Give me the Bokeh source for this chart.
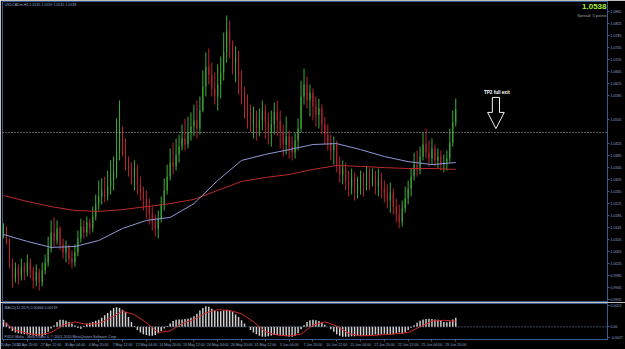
from bokeh.plotting import figure
from bokeh.layouts import column
from bokeh.models import Range1d, FixedTicker, ColumnDataSource, Span, Label
from bokeh.embed import file_html
from bokeh.resources import INLINE

# ---------------- data (USDCAD; one bar = 8 hours) ----------------
symbol_info = "USDCADm,H4  1.0535 1.0559 1.0532 1.0538"
first_open = 1.0127
close = [
    1.0140, 1.0100, 1.0027, 0.9973, 1.0007, 0.9980, 1.0013, 0.9993, 1.0027, 1.0000,
    0.9967, 0.9993, 0.9960, 1.0000, 1.0027, 1.0073, 1.0127, 1.0100, 1.0140, 1.0087,
    1.0060, 1.0080, 1.0040, 1.0027, 1.0060, 1.0107, 1.0147, 1.0127, 1.0160, 1.0140,
    1.0180, 1.0220, 1.0247, 1.0267, 1.0247, 1.0280, 1.0300, 1.0327, 1.0400, 1.0467,
    1.0400, 1.0360, 1.0333, 1.0313, 1.0340, 1.0287, 1.0260, 1.0240, 1.0213, 1.0187,
    1.0160, 1.0140, 1.0173, 1.0220, 1.0267, 1.0313, 1.0360, 1.0347, 1.0387, 1.0413,
    1.0440, 1.0420, 1.0460, 1.0480, 1.0500, 1.0473, 1.0533, 1.0613, 1.0680, 1.0653,
    1.0607, 1.0580, 1.0620, 1.0660, 1.0727, 1.0800, 1.0753, 1.0693, 1.0713, 1.0647,
    1.0593, 1.0553, 1.0527, 1.0487, 1.0513, 1.0473, 1.0500, 1.0533, 1.0493, 1.0460,
    1.0487, 1.0527, 1.0500, 1.0460, 1.0420, 1.0447, 1.0413, 1.0393, 1.0433, 1.0473,
    1.0580, 1.0620, 1.0567, 1.0593, 1.0547, 1.0520, 1.0540, 1.0487, 1.0453, 1.0427,
    1.0400, 1.0420, 1.0353, 1.0320, 1.0340, 1.0300, 1.0280, 1.0307, 1.0267, 1.0287,
    1.0307, 1.0280, 1.0327, 1.0293, 1.0313, 1.0280, 1.0307, 1.0273, 1.0253, 1.0233,
    1.0260, 1.0213, 1.0187, 1.0160, 1.0207, 1.0240, 1.0273, 1.0313, 1.0353, 1.0333,
    1.0380, 1.0420, 1.0393, 1.0373, 1.0407, 1.0367, 1.0380, 1.0353, 1.0360, 1.0373,
    1.0427, 1.0493, 1.0538,
]
high = [
    1.0157, 1.0147, 1.0107, 1.0040, 1.0027, 1.0020, 1.0040, 1.0027, 1.0053, 1.0040,
    1.0013, 1.0020, 1.0007, 1.0027, 1.0053, 1.0113, 1.0167, 1.0177, 1.0167, 1.0147,
    1.0107, 1.0100, 1.0087, 1.0067, 1.0087, 1.0133, 1.0173, 1.0167, 1.0180, 1.0173,
    1.0213, 1.0253, 1.0300, 1.0307, 1.0313, 1.0333, 1.0367, 1.0380, 1.0507, 1.0567,
    1.0480, 1.0440, 1.0380, 1.0360, 1.0367, 1.0353, 1.0313, 1.0280, 1.0267, 1.0240,
    1.0213, 1.0187, 1.0200, 1.0247, 1.0307, 1.0353, 1.0407, 1.0427, 1.0440, 1.0453,
    1.0487, 1.0507, 1.0513, 1.0527, 1.0553, 1.0567, 1.0580, 1.0667, 1.0727, 1.0740,
    1.0693, 1.0660, 1.0687, 1.0713, 1.0793, 1.0850, 1.0833, 1.0767, 1.0747, 1.0733,
    1.0667, 1.0613, 1.0587, 1.0553, 1.0547, 1.0533, 1.0540, 1.0567, 1.0553, 1.0527,
    1.0533, 1.0560, 1.0567, 1.0533, 1.0487, 1.0513, 1.0467, 1.0447, 1.0460, 1.0507,
    1.0633, 1.0673, 1.0647, 1.0620, 1.0607, 1.0580, 1.0573, 1.0553, 1.0513, 1.0487,
    1.0453, 1.0447, 1.0433, 1.0380, 1.0367, 1.0360, 1.0333, 1.0340, 1.0327, 1.0313,
    1.0333, 1.0327, 1.0347, 1.0340, 1.0340, 1.0333, 1.0340, 1.0327, 1.0300, 1.0287,
    1.0293, 1.0273, 1.0240, 1.0220, 1.0233, 1.0280, 1.0300, 1.0340, 1.0393, 1.0400,
    1.0413, 1.0460, 1.0473, 1.0433, 1.0440, 1.0420, 1.0407, 1.0400, 1.0387, 1.0400,
    1.0473, 1.0533, 1.0573,
]
low = [
    1.0107, 1.0087, 1.0007, 0.9943, 0.9960, 0.9953, 0.9967, 0.9967, 0.9980, 0.9973,
    0.9940, 0.9947, 0.9933, 0.9947, 0.9987, 1.0013, 1.0060, 1.0080, 1.0087, 1.0067,
    1.0040, 1.0027, 1.0020, 1.0007, 1.0013, 1.0047, 1.0093, 1.0107, 1.0113, 1.0120,
    1.0127, 1.0167, 1.0200, 1.0220, 1.0227, 1.0233, 1.0253, 1.0267, 1.0307, 1.0367,
    1.0380, 1.0333, 1.0313, 1.0287, 1.0267, 1.0253, 1.0233, 1.0200, 1.0173, 1.0153,
    1.0133, 1.0113, 1.0107, 1.0160, 1.0200, 1.0253, 1.0300, 1.0320, 1.0333, 1.0360,
    1.0400, 1.0400, 1.0407, 1.0433, 1.0447, 1.0440, 1.0453, 1.0527, 1.0580, 1.0620,
    1.0580, 1.0553, 1.0533, 1.0573, 1.0633, 1.0693, 1.0707, 1.0653, 1.0627, 1.0587,
    1.0553, 1.0507, 1.0473, 1.0460, 1.0440, 1.0433, 1.0447, 1.0467, 1.0440, 1.0420,
    1.0413, 1.0453, 1.0447, 1.0407, 1.0380, 1.0387, 1.0373, 1.0367, 1.0373, 1.0400,
    1.0460, 1.0553, 1.0540, 1.0513, 1.0500, 1.0480, 1.0473, 1.0453, 1.0420, 1.0400,
    1.0367, 1.0353, 1.0327, 1.0293, 1.0287, 1.0267, 1.0247, 1.0253, 1.0233, 1.0240,
    1.0253, 1.0247, 1.0267, 1.0267, 1.0280, 1.0253, 1.0247, 1.0240, 1.0227, 1.0207,
    1.0193, 1.0187, 1.0160, 1.0140, 1.0147, 1.0193, 1.0220, 1.0247, 1.0300, 1.0313,
    1.0320, 1.0367, 1.0373, 1.0347, 1.0353, 1.0347, 1.0340, 1.0333, 1.0327, 1.0333,
    1.0360, 1.0413, 1.0480,
]
# moving averages, sampled every 8 bars
ma_index = list(range(0, 153, 8))
ma_blue = [1.0120, 1.0097, 1.0077, 1.0080, 1.0100, 1.0140, 1.0167, 1.0177, 1.0223, 1.0300,
           1.0367, 1.0387, 1.0403, 1.0420, 1.0423, 1.0403, 1.0380, 1.0363, 1.0353, 1.0360]
ma_red = [1.0250, 1.0230, 1.0213, 1.0200, 1.0197, 1.0203, 1.0213, 1.0223, 1.0237, 1.0267,
          1.0297, 1.0310, 1.0320, 1.0337, 1.0350, 1.0347, 1.0343, 1.0340, 1.0340, 1.0337]
# MACD(12,26,9)
macd_hist = [
    0.0017, 0.0010, -0.0004, -0.0010, -0.0014, -0.0016, -0.0017, -0.0018, -0.0019, -0.0020,
    -0.0021, -0.0022, -0.0022, -0.0023, -0.0020, -0.0012, -0.0004, 0.0003, 0.0012, 0.0017,
    0.0017, 0.0015, 0.0012, 0.0008, 0.0003, -0.0003, -0.0005, 0.0002, 0.0008, 0.0010,
    0.0012, 0.0015, 0.0017, 0.0022, 0.0028, 0.0034, 0.0040, 0.0046, 0.0048, 0.0046,
    0.0042, 0.0036, 0.0024, 0.0012, 0.0002, -0.0008, -0.0014, -0.0018, -0.0020, -0.0022,
    -0.0022, -0.0020, -0.0016, -0.0010, -0.0004, 0.0002, 0.0008, 0.0014, 0.0017, 0.0018,
    0.0018, 0.0019, 0.0020, 0.0022, 0.0026, 0.0032, 0.0040, 0.0046, 0.0050, 0.0049,
    0.0044, 0.0040, 0.0038, 0.0038, 0.0040, 0.0042, 0.0040, 0.0036, 0.0030, 0.0024,
    0.0016, 0.0008, 0.0000, -0.0008, -0.0014, -0.0018, -0.0022, -0.0024, -0.0024, -0.0023,
    -0.0021, -0.0020, -0.0020, -0.0021, -0.0022, -0.0023, -0.0024, -0.0024, -0.0022, -0.0016,
    -0.0006, 0.0004, 0.0012, 0.0016, 0.0017, 0.0016, 0.0014, 0.0010, 0.0005, 0.0000,
    -0.0006, -0.0012, -0.0018, -0.0022, -0.0024, -0.0024, -0.0024, -0.0023, -0.0023, -0.0022,
    -0.0022, -0.0021, -0.0021, -0.0020, -0.0020, -0.0019, -0.0020, -0.0018, -0.0017, -0.0018,
    -0.0019, -0.0018, -0.0016, -0.0014, -0.0017, -0.0014, -0.0008, -0.0002, 0.0004, 0.0010,
    0.0015, 0.0018, 0.0019, 0.0020, 0.0019, 0.0018, 0.0017, 0.0014, 0.0012, 0.0011,
    0.0013, 0.0018, 0.0022,
]
signal_index = list(range(0, 153, 4))
macd_signal = [0.0012, -0.0008, -0.0016, -0.0020, -0.0014, 0.0004, 0.0012, 0.0006, 0.0008, 0.0022,
               0.0038, 0.0030, 0.0010, -0.0014, -0.0010, 0.0008, 0.0018, 0.0034, 0.0042, 0.0040,
               0.0032, 0.0012, -0.0012, -0.0020, -0.0022, -0.0018, 0.0004, 0.0012, 0.0002, -0.0016,
               -0.0022, -0.0021, -0.0019, -0.0017, -0.0014, 0.0000, 0.0014, 0.0016, 0.0014]
macd_info = "MACD(12,26,9) 0.00464 0.00139"
macd_ticks = [0.0052, 0.0, -0.0027]
macd_tick_labels = ["0.0052", "0.00", "-0.0027"]

time_ticks = list(range(0, 153, 8))
time_labels = ["20 Apr 2010", "22 Apr 20:00", "27 Apr 12:00", "30 Apr 04:00", "4 May 20:00",
               "7 May 12:00", "12 May 04:00", "14 May 20:00", "19 May 12:00", "24 May 04:00",
               "26 May 20:00", "31 May 12:00", "3 Jun 04:00", "7 Jun 20:00", "10 Jun 12:00",
               "15 Jun 04:00", "17 Jun 20:00", "22 Jun 12:00", "25 Jun 04:00", "29 Jun 20:00"]
price_ticks = [0.9905, 0.9945, 0.9985, 1.0025, 1.0065, 1.0105, 1.0145, 1.0185, 1.0225, 1.0265,
               1.0305, 1.0345, 1.0385, 1.0425, 1.0505, 1.0585, 1.0625, 1.0665,
               1.0705, 1.0745, 1.0785, 1.0825, 1.0865]
last_price = 1.0538
line_level = 1.0460
spread_text = "Spread: 5 points"
note_text = "TP2 full exit"
note_bar = 165.5
note_price = 1.0593
arrow_top, arrow_neck, arrow_tip = 1.0577, 1.0527, 1.0473
copyright_text = "FXDD Malta - MetaTrader 4, \u00a9 2001-2010 MetaQuotes Software Corp."

# ---------------- styling ----------------
BG = "#000000"
FRAME = "#3a5a8c"
AXTXT = "#8ea6cf"
BULL = "#3eab37"
BEAR = "#b52530"
FONT = "Liberation Sans"

idx = list(range(len(close)))
opens = [first_open] + close[:-1]
colors = [BULL if c >= o else BEAR for o, c in zip(opens, close)]
src = ColumnDataSource(dict(x=idx, o=opens, c=close, h=high, l=low,
                            top=[max(a, b) for a, b in zip(opens, close)],
                            bot=[min(a, b) for a, b in zip(opens, close)],
                            col=colors))

x_range = Range1d(-0.34, 203.0)
y_range = Range1d(0.98967, 1.08967)

p = figure(width=625, height=302, x_range=x_range, y_range=y_range,
           output_backend="svg", toolbar_location=None,
           x_axis_location=None, y_axis_location="right",
           background_fill_color=BG, border_fill_color=BG,
           min_border_left=2, min_border_right=17, min_border_top=1, min_border_bottom=1)
p.grid.visible = False
p.outline_line_color = FRAME
p.outline_line_width = 1

def style_axis(ax):
    ax.axis_line_color = FRAME
    ax.major_tick_line_color = FRAME
    ax.major_tick_out = 2
    ax.major_tick_in = 0
    ax.minor_tick_line_color = None
    ax.major_label_text_color = AXTXT
    ax.major_label_text_font = FONT
    ax.major_label_text_font_size = "3.6px"
    ax.major_label_standoff = 1

yax = p.yaxis[0]
style_axis(yax)
yax.ticker = FixedTicker(ticks=price_ticks)
yax.major_label_overrides = {t: f"{t:.4f}" for t in price_ticks}

p.segment(x0="x", y0="l", x1="x", y1="h", color="col", line_width=1, source=src)
p.vbar(x="x", top="top", bottom="bot", width=0.35, fill_color="col", line_color=None,
       source=src)

p.line(ma_index, ma_red, color="#b82a28", line_width=1)
p.line(ma_index, ma_blue, color="#8f98d8", line_width=1)

p.add_layout(Span(location=line_level, dimension="width", line_color="#b0b0b0",
                  line_dash="1 2", line_width=1))

# TP2 note with hollow arrow
aw, hw = 1.2, 2.8
p.patch([note_bar - aw, note_bar + aw, note_bar + aw, note_bar + hw, note_bar, note_bar - hw, note_bar - aw],
        [arrow_top, arrow_top, arrow_neck, arrow_neck, arrow_tip, arrow_neck, arrow_neck],
        fill_color=None, line_color="#f0f0f0", line_width=1)
p.add_layout(Label(x=note_bar + 0.3, y=note_price, text=note_text, text_align="center",
                   text_baseline="middle", text_color="#ffffff", text_font=FONT,
                   text_font_size="4.6px", text_font_style="bold"))

p.add_layout(Label(x=x_range.start, y=y_range.end, x_offset=2, y_offset=-1.5, text=symbol_info,
                   text_baseline="top", text_color=AXTXT, text_font=FONT, text_font_size="3.6px"))
p.add_layout(Label(x=x_range.end, y=y_range.end, x_offset=-1, y_offset=-2, text=f"{last_price:.4f}",
                   text_align="right", text_baseline="top", text_color="#a8f03c", text_font=FONT,
                   text_font_size="8px", text_font_style="bold"))
p.add_layout(Label(x=x_range.end, y=y_range.end, x_offset=-1, y_offset=-11, text=spread_text,
                   text_align="right", text_baseline="top", text_color="#a0a0a0", text_font=FONT,
                   text_font_size="4px"))
# axis markers for last price and horizontal line level
p.add_layout(Label(x=x_range.end, y=last_price, x_offset=2, text=f"{last_price:.4f}",
                   text_align="left", text_baseline="middle", text_color="#ffffff", text_font=FONT,
                   text_font_size="3.6px", background_fill_color="#2f5fb0", padding=1))
p.add_layout(Label(x=x_range.end, y=line_level, x_offset=2, text=f"{line_level:.4f}",
                   text_align="left", text_baseline="middle", text_color="#000000", text_font=FONT,
                   text_font_size="3.6px", background_fill_color="#a8a8a8", padding=1))

# ---------------- MACD panel ----------------
m = figure(width=625, height=47, x_range=x_range, y_range=Range1d(-0.0031, 0.0057),
           output_backend="svg", toolbar_location=None, y_axis_location="right",
           background_fill_color=BG, border_fill_color=BG,
           min_border_left=2, min_border_right=17, min_border_top=1, min_border_bottom=0)
m.grid.visible = False
m.outline_line_color = FRAME
m.outline_line_width = 1
may = m.yaxis[0]
style_axis(may)
may.ticker = FixedTicker(ticks=macd_ticks)
may.major_label_overrides = {t: s for t, s in zip(macd_ticks, macd_tick_labels)}
max_ = m.xaxis[0]
style_axis(max_)
max_.ticker = FixedTicker(ticks=time_ticks)
max_.major_label_overrides = {t: s for t, s in zip(time_ticks, time_labels)}
max_.major_label_text_align = "left"

m.add_layout(Span(location=0, dimension="width", line_color="#8090b0", line_dash="1 2", line_width=1))
m.vbar(x=idx, top=macd_hist, bottom=0, width=0.5, fill_color="#d0d0d0", line_color=None)
m.line(signal_index, macd_signal, color="#d02828", line_width=1)
m.add_layout(Label(x=x_range.start, y=0.0057, x_offset=2, y_offset=-2, text=macd_info,
                   text_baseline="top", text_color=AXTXT, text_font=FONT, text_font_size="3.6px"))
m.add_layout(Label(x=x_range.start, y=-0.0031, x_offset=2, y_offset=1, text=copyright_text,
                   text_baseline="bottom", text_color=AXTXT, text_font=FONT, text_font_size="3.6px"))

layout = column(p, m, spacing=0)
open("out.html", "w").write(file_html(layout, INLINE))
